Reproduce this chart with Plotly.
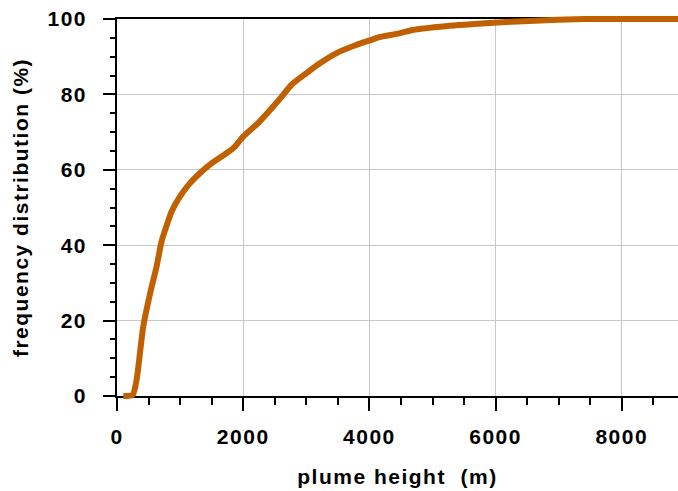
import plotly.graph_objects as go

# ---- data ----
plume_height_m = [100, 160, 250, 310, 416, 522, 627, 706, 786, 864, 996, 1154,
                  1312, 1497, 1734, 1866, 1998, 2261, 2472, 2630, 2762, 2999,
                  3210, 3473, 3789, 4053, 4158, 4474, 4685, 5212, 5976, 6530,
                  7426, 8000, 8900]
freq_pct = [0.0, 0.0, 0.3, 4.2, 18.4, 27.0, 34.3, 41.0, 45.2, 48.9, 52.9, 56.4,
            59.1, 61.7, 64.4, 66.1, 68.8, 72.8, 76.7, 79.8, 82.5, 85.6,
            88.2, 90.9, 93.1, 94.6, 95.2, 96.2, 97.1, 98.1, 99.0, 99.5,
            100.0, 100.0, 100.0]

x_tick_vals = [0, 2000, 4000, 6000, 8000]
x_tick_labels = ["0", "2000", "4000", "6000", "8000"]
y_tick_vals = [0, 20, 40, 60, 80, 100]
y_tick_labels = ["0", "20", "40", "60", "80", "100"]

x_title = "plume height\u00a0\u00a0(m)"
y_title = "frequency distribution (%)"

# ---- layout geometry ----
W, H = 678, 491
L, R, T, B = 117, 0, 15, 91
plot_h = H - T - B
y0_px, y100_px = 396, 19
pad_bot = (H - B) - y0_px
pad_top = y100_px - T
ppu = (y0_px - y100_px) / 100.0
y_dom = [pad_bot / plot_h, 1 - pad_top / plot_h]
y2_range = [-pad_bot / ppu, 100 + pad_top / ppu]
x_max = (W - L) / (126.2 / 2000.0)

LINE_COLOR = "rgb(192,96,0)"
GRID = "#c8c8c8"
FONT = dict(family="Liberation Sans, Arial, sans-serif", size=21, color="black", weight="bold")


def ls(s):
    return '<span style="letter-spacing:1.5px">' + s + '</span>'


fig = go.Figure()
# empty trace to keep the main subplot (axes, grid, ticks)
fig.add_trace(go.Scatter(x=[], y=[], mode="lines", showlegend=False,
                         hoverinfo="skip", xaxis="x", yaxis="y"))
fig.add_trace(go.Scatter(x=plume_height_m, y=freq_pct, mode="lines",
                         line=dict(color=LINE_COLOR, width=6, shape="spline", smoothing=0.6),
                         showlegend=False, xaxis="x2", yaxis="y2"))

fig.update_layout(
    width=W, height=H,
    margin=dict(l=L, r=R, t=T, b=B, pad=0),
    paper_bgcolor="white", plot_bgcolor="rgba(0,0,0,0)",
    font=FONT,
    showlegend=False,
    xaxis=dict(
        domain=[0, 1], range=[0, x_max], anchor="y",
        showline=True, linecolor="black", linewidth=1.5, mirror=True,
        ticks="outside", ticklen=13, tickwidth=1.5, tickcolor="black",
        tickmode="array", tickvals=x_tick_vals,
        ticktext=[ls(t) for t in x_tick_labels],
        tickfont=FONT, ticklabelstandoff=8,
        showgrid=True, gridcolor=GRID, gridwidth=1, zeroline=False,
        minor=dict(tickmode="linear", tick0=0, dtick=500, ticks="outside",
                   ticklen=7, tickwidth=1.5, tickcolor="black", showgrid=False),
        title=dict(text=ls(x_title), font=FONT, standoff=22),
        automargin=False,
    ),
    yaxis=dict(
        domain=y_dom, range=[0, 100], anchor="x",
        showline=True, linecolor="black", linewidth=1.5, mirror=False,
        ticks="outside", ticklen=12, tickwidth=1.5, tickcolor="black",
        tickmode="array", tickvals=y_tick_vals,
        ticktext=[ls(t) for t in y_tick_labels],
        tickfont=FONT, ticklabelstandoff=12,
        showgrid=True, gridcolor=GRID, gridwidth=1, zeroline=False,
        minor=dict(tickmode="linear", tick0=0, dtick=5, ticks="outside",
                   ticklen=5, tickwidth=1.5, tickcolor="black", showgrid=False),
        title=dict(text=ls(y_title), font=FONT, standoff=13),
        automargin=False,
    ),
    xaxis2=dict(domain=[0, 1], range=[0, x_max], anchor="y2", visible=False,
                fixedrange=True),
    yaxis2=dict(domain=[0, 1], range=y2_range, anchor="x2", visible=False,
                fixedrange=True),
)

fig.write_html("out.html", config={"displayModeBar": False})

# remove the browser's default 8px body margin so the figure sits at (0,0)
with open("out.html", "r", encoding="utf-8") as f:
    html = f.read()
html = html.replace("<body>", '<body style="margin:0;padding:0;overflow:hidden">', 1)
with open("out.html", "w", encoding="utf-8") as f:
    f.write(html)
